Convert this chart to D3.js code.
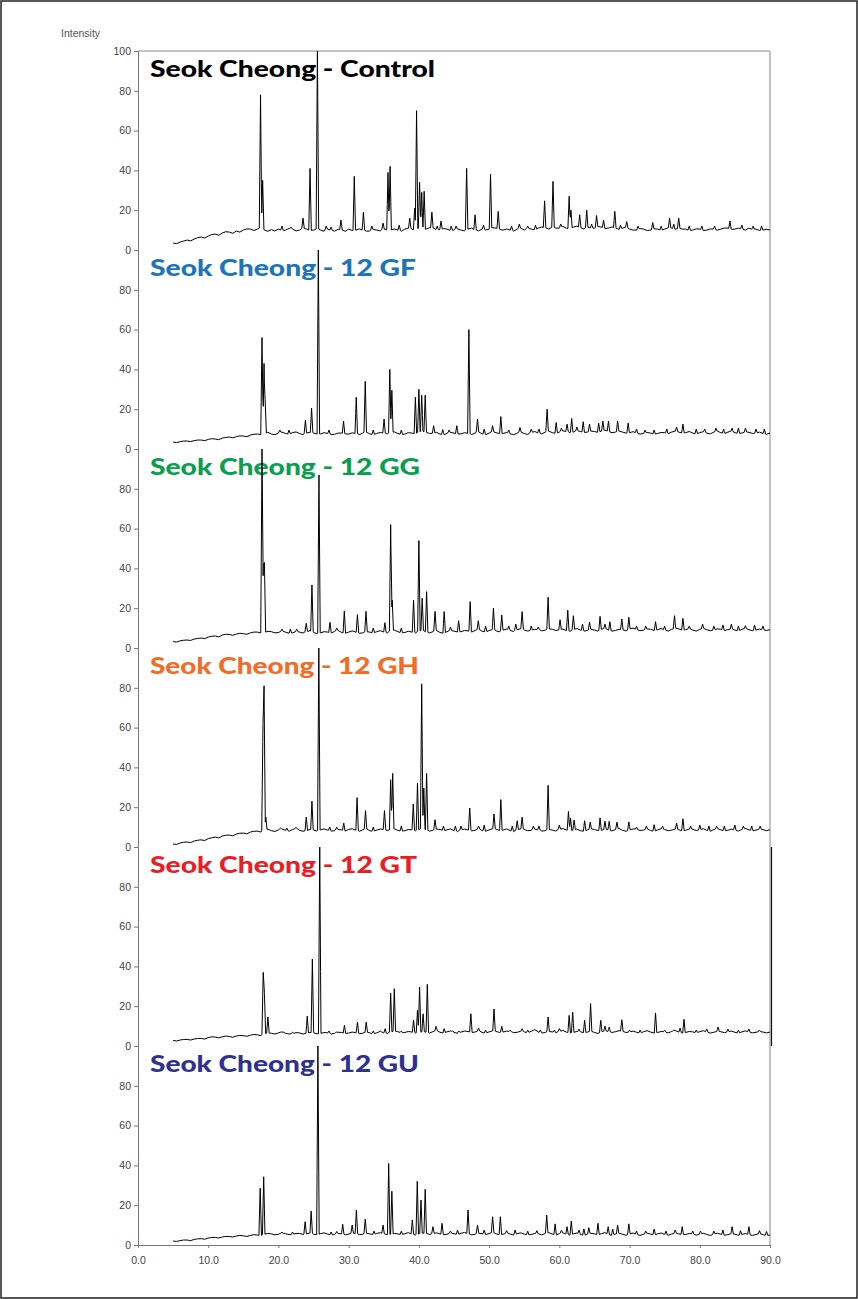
<!DOCTYPE html>
<html>
<head>
<meta charset="utf-8">
<script src="https://cdn.jsdelivr.net/npm/d3@7"></script>
<style>
  body { margin: 0; background: #fff; }
  svg { display: block; }
  .tick text { font-family: "Liberation Sans", Arial, sans-serif; font-size: 10.5px; fill: #444; }
  .tick line, .domain { stroke: #777; }
</style>
</head>
<body>
<svg id="chart" width="858" height="1299"></svg>
<script>
// sample names, top to bottom
var samples = ["Seok Cheong - Control", "Seok Cheong - 12 GF", "Seok Cheong - 12 GG",
               "Seok Cheong - 12 GH", "Seok Cheong - 12 GT", "Seok Cheong - 12 GU"];

var xTicks = [0, 10, 20, 30, 40, 50, 60, 70, 80, 90];
var yTicksTop = [0, 20, 40, 60, 80, 100];
var yTicks = [0, 20, 40, 60, 80];

// background level read every 0.5 deg from 5 to 90 (2-theta)
var bgControl = [3.5,3.2,4,4.5,5,4.6,5.5,6.2,6.5,6,
  7,7.8,8,7.4,8.5,9.2,9,8.4,9.5,9,
  10,10.6,10.5,9.8,10.5,11,10,9.4,10.2,9.6,
  10.5,9.8,10,10.8,10.5,9.6,10,10.8,10.5,9.8,
  10,10.6,10,9.4,10.5,9.8,9.5,10.4,10,9.4,
  10.5,9.8,10,10.6,10,9.5,9.5,10.3,10,9.6,
  10.5,10,10,10.6,10,9.5,10.5,11,10.5,10,
  11,10.4,10.5,11.2,11,10.2,10,10.8,10.5,9.8,
  10,10.6,10,9.6,10.5,11,10,9.6,10.5,10,
  10.5,11.2,11,10.4,10,10.6,10,9.5,10.5,11,
  10,10.8,10.5,10,11,11.6,11,10.5,11.5,11,
  11,11.8,11,10.6,11.5,12,11,10.5,11.5,11,
  11,11.8,11.5,10.8,11,11.6,11,10.4,11,11.5,
  10.5,10,10,10.8,10.5,9.8,10,10.6,10.5,9.8,
  10.5,11.2,11,10.4,11,10.5,10.5,9.8,10,10.6,
  10.5,9.8,10,10.6,10.5,10,10.5,11,11,10.4,
  10.5,11,10.5,10,11,10.4,10.5,9.8,10,10.4,
  10];
var bgGF = [3.5,3.2,3.7,4,4,3.7,4.2,4.5,4.5,4.2,
  4.8,5.2,5,4.7,5.5,5.8,6,5.6,6.2,6.6,
  6.5,6.2,7,7.4,7.5,7,7.8,8.4,7.5,7.2,
  8,8.5,7.8,7.4,8.2,8.6,7.8,7.2,8,8.4,
  8,7.5,7.6,8.2,7.8,7.2,7.4,8,8,7.6,
  7.5,8.1,7.8,7.2,8,8.5,7.6,7.2,7.8,8.3,
  8,7.6,8.2,8.6,7.8,7.3,7.5,8.2,8,7.6,
  8.5,9,8.2,7.8,7.8,8.4,7.5,7.1,7.8,8.3,
  8,7.5,7.6,8.2,7.8,7.3,8,8.6,7.6,7.2,
  8,8.6,8.2,7.7,7.8,8.3,7.6,7.2,8,8.5,
  7.8,7.3,8.2,8.8,8,7.6,8.5,9,8.2,7.8,
  8.5,9.1,8.8,8.2,8.5,9.1,8.8,8.2,8.5,9,
  8.8,8.3,9,9.5,8.8,8.2,8.5,9,8.5,8,
  8.2,8.7,8,7.5,7.8,8.3,8,7.4,7.8,8.3,
  8.2,7.7,8.5,9,8.5,8,8.2,8.8,8,7.5,
  8.2,8.7,8,7.6,8.5,9,8.2,7.7,8.5,9,
  8.2,7.8,8,8.6,8.4,7.8,8,8.5,7.8,7.4,
  8];
var bgGG = [3.2,3,3.6,3.9,4,3.8,4.5,4.8,5,4.7,
  5.5,5.9,6,5.6,6.5,6.9,6.8,6.4,7,7.4,
  7.2,6.9,7.6,8,8,7.5,7.8,8.4,8.2,7.6,
  7.8,8.3,8,7.4,7.6,8.2,8,7.5,8.2,8.7,
  7.8,7.2,7.6,8.2,8,7.4,8.3,8.8,7.8,7.3,
  8,8.6,8,7.4,7.6,8.2,8,7.5,8.2,8.7,
  8,7.5,8.5,9,8.2,7.6,7.8,8.4,8,7.5,
  8.4,8.9,8,7.6,8.2,8.8,7.8,7.3,8.2,8.7,
  8.5,8,8.2,8.8,8.6,8,8.8,9.3,8.4,8,
  8.8,9.3,8.6,8.1,9,9.5,8.8,8.3,9.2,9.7,
  9,8.5,8.8,9.4,9.2,8.6,9,9.6,9.4,8.8,
  9,9.5,8.8,8.3,9.2,9.8,9,8.5,8.8,9.4,
  9,8.5,9.4,9.9,9,8.5,8.8,9.4,9.2,8.6,
  9.6,10,9.2,8.7,9,9.6,9.4,8.8,9.2,9.8,
  9,8.5,9.4,10,9.6,9,9.2,9.8,9,8.5,
  9.4,9.9,9.2,8.7,9,9.6,9.4,8.8,9.2,9.7,
  9,8.5,9.4,9.9,9.2,8.7,9,9.5,9.2,8.8,
  9.2];
var bgGH = [1.5,1.3,2,2.4,2.5,2.2,3,3.4,3.6,3.2,
  4.2,4.6,5,4.6,5.5,5.9,6,5.6,6.5,6.9,
  7,6.6,7.5,7.9,8,7.5,8.4,8.9,8.2,7.8,
  8.6,9.1,8.4,7.9,8.8,9.2,8.4,7.9,8.2,8.8,
  8.5,8,8.6,9.1,8.5,8,8.2,8.8,8.6,8,
  8.8,9.2,8.4,7.9,8.6,9.1,8.2,7.8,8.5,9,
  8.8,8.2,8.6,9.1,8.4,7.9,8.2,8.8,8.6,8,
  8.8,9.3,8.5,8,8.4,9,8.8,8.2,8.6,9.1,
  8.2,7.7,8.5,9,8.6,8.1,8.4,9,8.3,7.9,
  8.6,9.2,8.9,8.3,8.5,9.1,8.2,7.7,8.6,9.1,
  8.8,8.2,8.4,9,8.6,8,8.2,8.8,8.5,8,
  8.8,9.3,8.6,8.1,8.4,9,8.2,7.8,8.6,9.1,
  8.8,8.3,8.4,9,8.6,8.1,8.8,9.3,8.4,7.9,
  8.6,9.1,8.9,8.3,8.5,9.1,8.3,7.8,8.6,9.2,
  8.8,8.2,8.5,9,8.7,8.1,8.4,9,8.9,8.3,
  8.6,9.2,8.4,7.9,8.8,9.3,8.6,8.1,8.4,9,
  8.5,8,8.8,9.3,8.6,8.1,8.5,9,8.7,8.2,
  8.7];
var bgGT = [2.8,2.5,3,3.3,3.3,3,3.5,3.8,3.8,3.5,
  4.2,4.6,4.5,4.1,4.6,5,4.8,4.4,5,5.3,
  5.2,4.9,5.4,5.8,5.6,5.2,6,6.5,6.4,6,
  6.6,7,6.4,6,6.2,6.7,6.6,6,6.3,6.8,
  6.6,6.1,6.3,6.8,6.6,6,6.4,6.9,6.8,6.2,
  6.5,7,6.7,6.2,6.4,6.9,6.6,6.1,6.6,7.1,
  6.6,6.2,7,7.4,7.2,6.6,6.8,7.3,7,6.5,
  6.7,7.2,7,6.5,7.2,7.7,6.9,6.4,7.1,7.6,
  6.8,6.4,7,7.5,7.3,6.7,7,7.5,6.8,6.4,
  7.1,7.6,7.3,6.8,7,7.5,7.2,6.7,6.9,7.4,
  7.1,6.6,7.4,7.9,7,6.5,6.8,7.3,7.1,6.6,
  7.3,7.8,7,6.5,6.8,7.3,7.2,6.6,7,7.5,
  6.8,6.3,7.1,7.6,7.3,6.8,7.2,7.7,7.4,6.8,
  7,7.5,6.9,6.4,7.2,7.7,7,6.5,6.8,7.3,
  7.1,6.6,7.3,7.8,7,6.5,6.8,7.3,7.1,6.6,
  7.2,7.7,7,6.5,6.9,7.4,7.2,6.7,7.1,7.5,
  6.9,6.4,7.1,7.6,7,6.6,6.9,7.3,7,6.6,
  7];
var bgGU = [2,1.8,2.2,2.5,2.5,2.2,2.8,3.1,3.2,2.9,
  3.5,3.8,3.8,3.5,4,4.3,4.3,4,4.5,4.8,
  4.6,4.3,4.8,5.2,5,4.7,5.4,5.8,5.6,5.1,
  5.4,5.9,5.7,5.2,5.3,5.8,5.8,5.3,5.6,6,
  5.4,5,5.7,6.1,5.5,5,5.3,5.8,5.6,5.1,
  5.5,5.9,5.7,5.2,5.4,5.9,5.6,5.1,5.8,6.2,
  5.5,5.1,5.3,5.8,5.6,5.1,5.7,6.2,5.4,5,
  5.5,6,5.8,5.3,5.7,6.1,5.6,5.1,5.4,5.9,
  5.7,5.2,5.9,6.3,5.6,5.1,5.4,5.9,5.7,5.2,
  5.8,6.2,5.6,5.1,5.4,5.9,5.5,5,5.7,6.1,
  5.5,5,5.3,5.8,5.6,5.1,5.8,6.2,5.5,5,
  5.7,6.1,5.4,4.9,5.6,6,5.3,4.8,5.4,5.9,
  5.6,5.1,5.7,6.2,5.3,4.8,5.5,5.9,5.4,4.9,
  5.6,6,5.3,4.8,5.4,5.9,5.5,5,5.6,6,
  5.4,4.9,5.5,6,5.6,5.1,5.3,5.8,5.5,5,
  5.4,5.9,5.3,4.8,5.5,5.9,5.4,4.9,5.2,5.7,
  5.4,4.9,5.3,5.8,5.2,4.8,5.3,5.7,5.2,4.8,
  5];

// peaks [2-theta, intensity]
var pkControl = [[17.45,78],[17.75,35],[23.5,16],[24.5,41],[25.55,100],[28.9,15],[30.8,37],[32.1,19],[34.9,13.5],[35.6,39],[35.9,42],[38.7,16],[39.4,21],[39.67,70],[40.1,34],[40.4,29],[40.75,29.5],[41.85,19],[43.15,14.5],[44.6,12],[46.8,41],[48.0,17.7],[50.2,38],[51.3,19.4],[54.3,13],[57.9,24.7],[59.1,34.5],[61.4,27],[61.65,20],[62.9,17.7],[63.9,20],[65.3,17.3],[66.3,15],[67.9,19.4],[69.6,14.3],[73.3,13.8],[75.7,16],[77,16],[84.3,14.6],
  [20.5,12],[21.8,11.5],[26.8,12],[27.5,11.5],[33.3,12],[37.2,12.5],[42.6,12],[45.3,12],[49.2,12.5],[53.2,12],[55.5,12],[56.6,12.5],[60.2,13],[64.6,13],[68.7,12.5],[71.2,12],[74.5,12],[76.3,13],[78.5,12],[80.3,12],[82.1,12],[86,12.5],[87.6,12],[88.8,12]];
var pkGF = [[17.66,56],[17.95,43],[18.1,25],[23.84,14.5],[24.72,20.5],[25.68,100],[29.27,14],[31.08,26],[32.36,34],[35.04,15],[35.86,40],[36.15,29.5],[39.5,26],[40.0,30],[40.4,27],[40.9,27],[42.1,11.7],[43.4,9.7],[45.4,11.7],[47.12,60],[48.35,15],[50.5,11.7],[51.67,16.3],[54.4,10.8],[58.26,20],[59.55,13.3],[61.1,12.5],[61.76,15.3],[63.4,13.7],[64.3,12.5],[65.6,13],[66.2,14],[67.0,14],[68.3,14],[69.8,13],[73.5,9.5],[76.7,11],[77.6,12.5],[80.7,10],[84.6,10.5],[86.5,10.5],
  [20.2,9.5],[21.5,9.5],[27.2,9.5],[33.5,9.5],[37.5,9.5],[44.3,9.5],[49.3,10],[52.8,9.5],[56,10],[57.1,10],[60.3,10.5],[62.5,11],[71,10],[72.2,9.5],[75.3,10],[79.5,10],[82.3,10.5],[83.4,10],[85.5,10.5],[88,10],[89.2,10]];
var pkGG = [[17.66,100],[17.85,42],[18.0,43],[23.96,12.4],[24.77,31.7],[25.77,87],[27.34,12.9],[29.38,18.6],[31.25,16.8],[32.47,18.4],[35.16,12.7],[35.98,62],[36.2,24],[39.24,24],[40.0,54],[40.47,25],[41.1,28.3],[42.3,18.4],[43.6,18.3],[45.66,13.7],[47.3,23.3],[48.46,13.7],[50.62,20],[51.8,16.6],[53.8,12],[54.7,18.3],[58.4,25.5],[60.1,14.2],[61.2,19],[62,16.2],[64.3,12.9],[65.8,15.9],[67.2,13.2],[68.9,14.6],[69.9,15.4],[73.7,13.2],[76.4,16.2],[77.6,14.9],[80.4,12],[84.5,12],[86.5,11.2],
  [20.5,9.5],[21.7,9.5],[22.6,9.5],[28.3,10],[33.5,10],[37.5,10],[44.5,10.5],[49.5,11],[52.8,11],[56,11],[57,10.5],[63.3,12],[66.5,12],[71,11],[72.3,11],[75,11],[78.5,11],[82,11],[83.3,11.5],[85.5,11],[87.8,11.5],[89,11]];
var pkGH = [[17.8,62],[17.95,81],[18.2,15],[23.96,15],[24.77,23],[25.75,100],[29.3,12],[31.2,24.8],[32.4,18.3],[35.1,18.3],[35.98,33.8],[36.27,37],[39.2,21.6],[39.8,32],[40.4,82],[40.7,29.6],[41.1,37],[42.3,13.7],[47.24,19.6],[50.7,16.6],[51.67,23.8],[54.0,13.2],[54.7,15],[58.4,31],[61.3,17.9],[61.6,14.5],[62.1,13.5],[63.6,13.2],[64.4,12.5],[65.8,14.6],[66.5,13],[67.1,12.9],[68.2,12.5],[69.9,12.6],[73.5,11.2],[76.7,12],[77.6,14.2],[82.4,10.4],
  [20.3,9.5],[21.2,9.5],[22.5,9.8],[27.3,10],[28.3,10],[33.5,10],[37.5,10.5],[43.5,10.5],[45.2,10.5],[46,10.5],[48.5,10.5],[49.3,11],[53.3,10.5],[56.3,10.5],[57.1,10.5],[60,11],[71,10],[72.4,10.5],[74.7,10.5],[78.7,10.5],[80,11],[81.3,10.5],[83.5,10.5],[85,11],[86.2,10.5],[87.4,10.5],[88.6,10.5]];
var pkGT = [[17.83,37],[18.0,27],[18.5,14.6],[24.1,15],[24.83,43.7],[25.88,100],[29.4,10.4],[31.25,12],[32.5,12],[35.2,8.7],[35.98,26.6],[36.5,28.8],[39.24,12.9],[39.8,17.9],[40.1,29.6],[40.6,16.2],[41.2,31],[42.45,9.9],[43.6,8.7],[47.4,16.2],[48.5,9],[50.7,18.6],[51.8,9.9],[54.7,8.7],[56.5,8.2],[58.4,14.6],[60,8.7],[61.4,15.4],[61.9,17],[63.6,12.9],[64.45,21.3],[65.9,12.9],[66.5,10],[67.1,9.5],[68.9,13.2],[73.7,16.6],[77.2,9],[77.75,13.4],[82.6,9.5],
  [20.5,7],[22,7],[27.2,7.5],[28.3,7],[33.5,7.5],[34.5,7.5],[37.5,7.5],[44.8,7.5],[45.7,7.5],[49.5,8],[53,8],[55.5,8],[57.3,8],[59.3,8],[62.8,8.5],[70,8],[71.5,8],[75,8],[76.3,8],[79.5,8],[81,8.5],[84,8.5],[85.5,8],[87,8.5],[88.5,8]];
var pkGU = [[17.4,28.5],[17.9,34.3],[23.8,11.7],[24.66,17],[25.62,100],[29.15,10.4],[30.5,10],[31.1,17.6],[32.36,13],[34.9,10],[35.7,41],[36.15,27],[39.07,12.6],[39.77,32],[40.3,22.6],[40.9,28],[42.0,9.2],[43.3,10.9],[47.0,17.6],[48.35,10],[50.5,14.2],[51.6,14.2],[53.7,7.5],[58.2,15],[59.4,10.6],[61.1,9.2],[61.7,12],[64.2,8.7],[65.5,10.9],[66.96,9.2],[68.3,10],[69.9,10.6],[73.5,8],[77.5,9.2],[80.1,7],[84.6,9.2],[87,9.2],
  [20.5,6.5],[22,6.5],[27.5,6.5],[28.3,6.8],[33.6,7],[37.5,7],[44.5,7],[45.5,7.5],[49.3,7.5],[52.5,7.2],[55.5,7],[56.8,7.2],[60.3,7.5],[62.8,7.5],[63.5,8],[67.6,8],[71,7],[72.3,7],[75.2,7],[76.5,7.5],[79,7],[82,7],[83.3,7.5],[85.8,7.2],[88.5,7.2],[89.5,6.8]];

var backgrounds = [bgControl, bgGF, bgGG, bgGH, bgGT, bgGU];
var peaks = [pkControl, pkGF, pkGG, pkGH, pkGT, pkGU];

// label colours and widths (style)
var labelColor = ["#000000", "#1c75bc", "#0a9e4f", "#f36b24", "#ed1c24", "#2e3192"];
var labelWidth = [285, 266, 270, 269, 267, 269];

var svg = d3.select("#chart");
var top0 = 51, panelH = 199, left = 138, right = 770;
var bgStep = 0.5;

var x = d3.scaleLinear().domain([0, 90]).range([left, right]);

// outer border
svg.append("rect").attr("x", 1).attr("y", 1).attr("width", 856).attr("height", 1297)
    .attr("fill", "none").attr("stroke", "#222").attr("stroke-width", 1.5);

svg.append("text").attr("x", 61).attr("y", 37)
    .style("font-family", "'Liberation Sans', Arial, sans-serif").style("font-size", "10.5px")
    .attr("fill", "#555").text("Intensity");

// frame top + right
svg.append("line").attr("x1", left).attr("x2", right).attr("y1", top0).attr("y2", top0)
    .attr("stroke", "#888");
svg.append("line").attr("x1", right).attr("x2", right).attr("y1", top0).attr("y2", top0 + 6 * panelH)
    .attr("stroke", "#888");

function bgAt(bg, t) {
    var p = (t - 5) / bgStep;
    var i = Math.max(0, Math.min(Math.floor(p), bg.length - 2));
    var f = p - i;
    return bg[i] * (1 - f) + bg[i + 1] * f;
}

function buildLine(bg, pk) {
    var w = 0.18;
    var ts = bg.map(function(d, i) { return 5 + i * bgStep; });
    pk.forEach(function(p) { ts.push(p[0] - w, p[0], p[0] + w); });
    ts = ts.filter(function(t) { return t >= 5 && t <= 90; }).sort(d3.ascending);
    return ts.map(function(t) {
        var v = bgAt(bg, t);
        pk.forEach(function(p) {
            var d = Math.abs(t - p[0]);
            if (d < w) {
                var b = bgAt(bg, p[0]);
                v = Math.max(v, b + (p[1] - b) * (1 - d / w));
            }
        });
        return [t, v];
    });
}

samples.forEach(function(name, k) {
    var y = d3.scaleLinear().domain([0, 100])
        .range([top0 + (k + 1) * panelH, top0 + k * panelH]);
    var g = svg.append("g");

    g.append("g").attr("transform", "translate(" + left + ",0)")
        .call(d3.axisLeft(y).tickValues(k == 0 ? yTicksTop : yTicks).tickSize(4).tickPadding(3));

    g.append("text").attr("x", 150).attr("y", top0 + k * panelH + 26)
        .style("font-family", "'Arial Black', Lato, Roboto, sans-serif")
        .style("font-weight", 900).style("font-size", "23px")
        .attr("fill", labelColor[k])
        .attr("textLength", labelWidth[k]).attr("lengthAdjust", "spacingAndGlyphs")
        .text(name);

    var line = d3.line().x(function(d) { return x(d[0]); }).y(function(d) { return y(d[1]); });
    g.append("path").datum(buildLine(backgrounds[k], peaks[k]))
        .attr("d", line).attr("fill", "none").attr("stroke", "#000").attr("stroke-width", 1);
});

// darker right edge on the GT panel
svg.append("line").attr("x1", right + 1.5).attr("x2", right + 1.5)
    .attr("y1", top0 + 4 * panelH).attr("y2", top0 + 5 * panelH)
    .attr("stroke", "#111").attr("stroke-width", 1.2);

svg.append("g").attr("transform", "translate(0," + (top0 + 6 * panelH) + ")")
    .call(d3.axisBottom(x).tickValues(xTicks).tickFormat(d3.format(".1f")).tickSize(3).tickPadding(9));
</script>
</body>
</html>
